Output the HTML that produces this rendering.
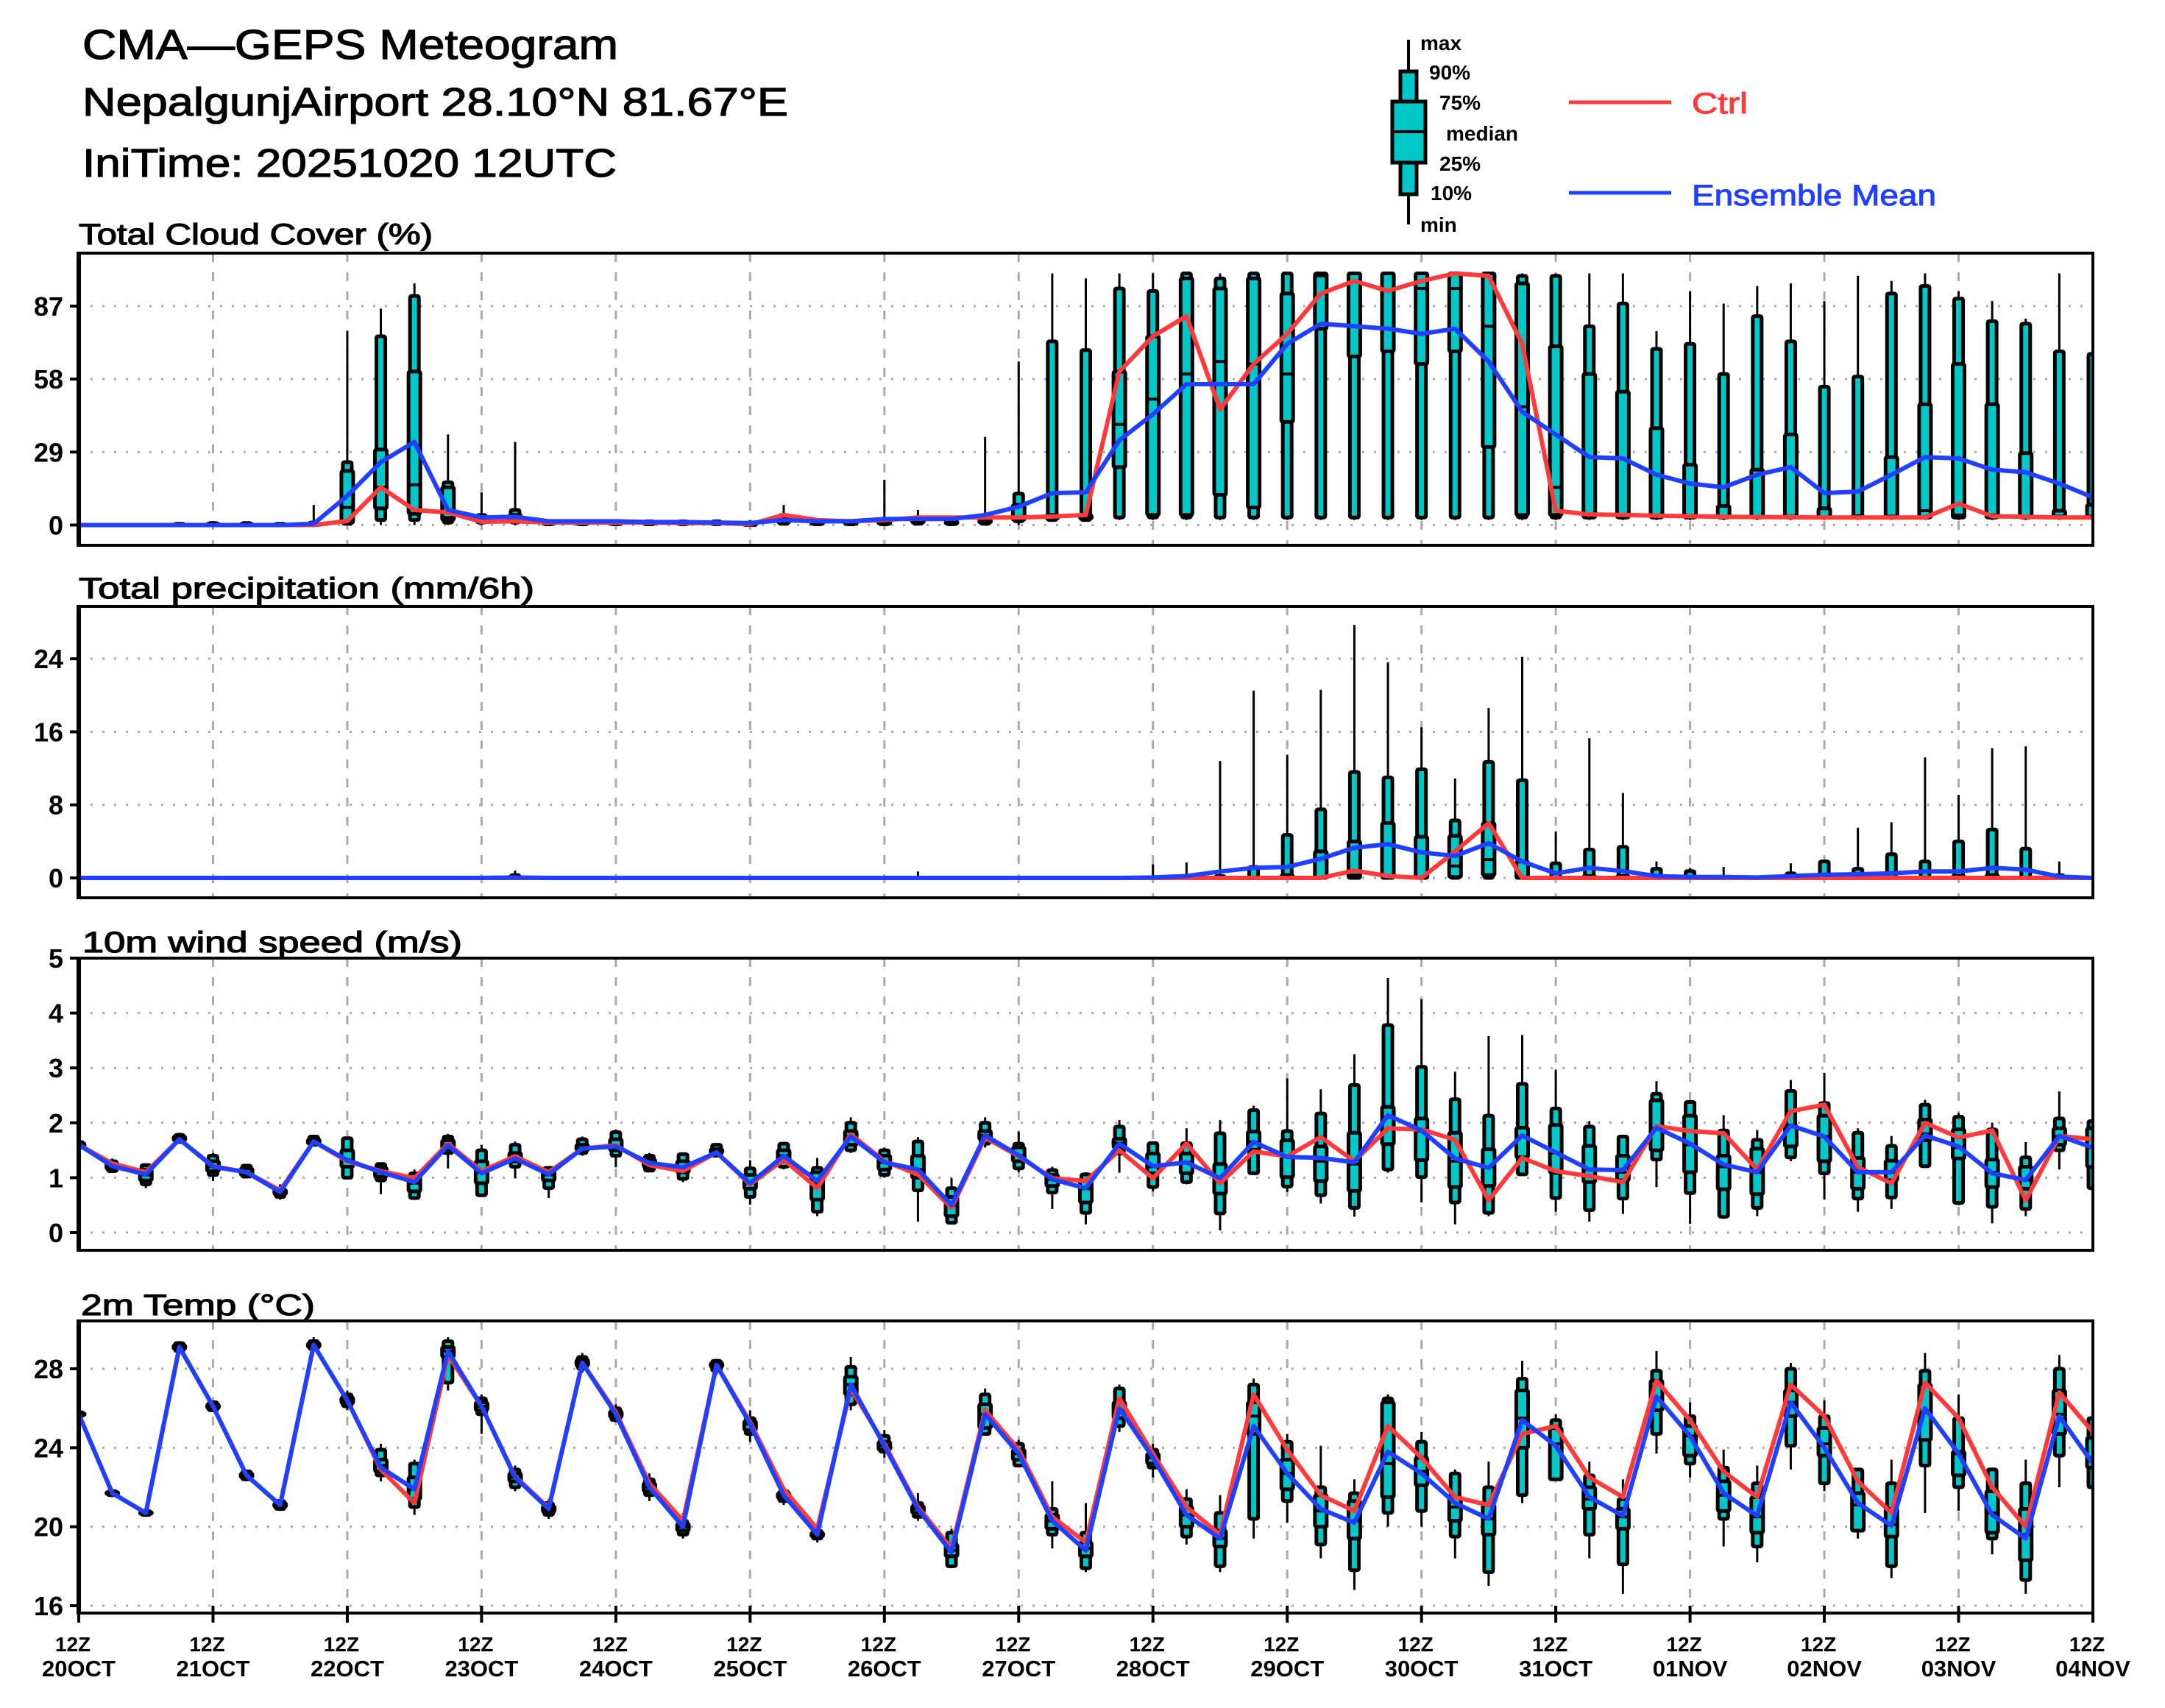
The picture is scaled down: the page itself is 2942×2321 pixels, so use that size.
<!DOCTYPE html>
<html>
<head>
<meta charset="utf-8">
<style>
html,body{margin:0;padding:0;background:#fff;}
svg{display:block;}
text{font-family:"Liberation Sans",sans-serif;}
.hv{stroke:#000;stroke-width:1.2;}
</style>
</head>
<body>
<svg id="chart" xmlns="http://www.w3.org/2000/svg" width="2942" height="2321" viewBox="0 0 2942 2321">
  <rect x="0" y="0" width="2942" height="2321" fill="#fff"/>
  <text class="hv" x="112" y="80" font-size="57" textLength="728" lengthAdjust="spacingAndGlyphs">CMA—GEPS Meteogram</text>
  <text class="hv" x="112" y="157" font-size="54" textLength="959" lengthAdjust="spacingAndGlyphs">NepalgunjAirport 28.10°N 81.67°E</text>
  <text class="hv" x="112" y="240" font-size="54" textLength="726" lengthAdjust="spacingAndGlyphs">IniTime: 20251020 12UTC</text>

  <g>
    <line x1="1914" y1="54" x2="1914" y2="305" stroke="#000" stroke-width="4"/>
    <rect x="1903" y="97" width="22" height="167" fill="#00c8c8" stroke="#000" stroke-width="5"/>
    <rect x="1892" y="138" width="45" height="83" fill="#00c8c8" stroke="#000" stroke-width="5"/>
    <line x1="1892" y1="179" x2="1937" y2="179" stroke="#000" stroke-width="4"/>
    <g font-size="28" font-weight="bold">
      <text x="1930" y="68">max</text>
      <text x="1942" y="108">90%</text>
      <text x="1956" y="149">75%</text>
      <text x="1965" y="191">median</text>
      <text x="1956" y="232">25%</text>
      <text x="1944" y="272">10%</text>
      <text x="1930" y="315">min</text>
    </g>
  </g>
  <g>
    <line x1="2132" y1="139" x2="2271" y2="139" stroke="#ff3a3a" stroke-width="5"/>
    <text x="2299" y="154" font-size="40" fill="#ff3a3a" stroke="#ff3a3a" stroke-width="1" textLength="76" lengthAdjust="spacingAndGlyphs">Ctrl</text>
    <line x1="2132" y1="262" x2="2271" y2="262" stroke="#2040ff" stroke-width="5"/>
    <text x="2299" y="279" font-size="40" fill="#2040ff" stroke="#2040ff" stroke-width="1" textLength="332" lengthAdjust="spacingAndGlyphs">Ensemble Mean</text>
  </g>

  <text class="hv" x="107" y="332" font-size="40" textLength="481" lengthAdjust="spacingAndGlyphs">Total Cloud Cover (%)</text>
  <text class="hv" x="107" y="813" font-size="40" textLength="619" lengthAdjust="spacingAndGlyphs">Total precipitation (mm/6h)</text>
  <text class="hv" x="112" y="1294" font-size="40" textLength="516" lengthAdjust="spacingAndGlyphs">10m wind speed (m/s)</text>
  <text class="hv" x="110" y="1787" font-size="40" textLength="318" lengthAdjust="spacingAndGlyphs">2m Temp (°C)</text>
  <g id="plots"></g>
</svg>
<script>
// ---------- Total cloud cover (%) ----------
const cloudMin = [0,0,0,0,0,0,0,0,0,0, 0,0,0,0,0,0,0,0,0,0, 0,0,0,0,0,0,0,0,0,2, 2,2,2,2,2,2,2,2,2,2, 2,2,2,2,2,2,2,2,2,2, 2,2,2,2,2,2,2,2,2,2,2];
const cloudP10 = [0,0,0,0,0,0,0,0,0.5,2, 2,1,1,1,0.3,0.3,0.3,0.3,0.3,0.3, 0,0.5,0.3,0.3,0.3,0.5,0.3,0.5,1.5,2, 2,3,3,3,3,3,3,3,3,3, 3,3,3,3,3,3,3,3,3,3, 3,3,3,3,3,3,3,3,3,3,3];
const cloudP25 = [0,0,0,0,0,0,0,0,1,6.6, 4.5,2,1.5,1.5,0.5,0.5,0.5,0.5,0.5,0.5, 0,1,0.5,0.5,0.5,1,0.5,1,2,2.5, 2.5,23,4,4,12,7,41,78,67,69, 64,69,31,4,4,3,3,3,3,3, 3,3,3,3,3,3,3,3,3,3,3];
const cloudMed = [0,0,0,0.2,0.3,0.3,0.2,0.3,7,15, 16,3,2,2,0.8,0.8,0.8,0.8,0.8,0.8, 0.3,2,0.8,0.8,1,1.5,1,1.5,3,3, 3,40,50,60,65,64,60,99,100,100, 94,94,79,47,15,4,4,4,3.5,3, 3,3.5,3,3,3.5,5.7,4,4,3.5,3.5,3.5];
const cloudP75 = [0,0,0,0.3,0.5,0.5,0.3,0.5,21.5,30, 61,15,3,4,1,1,1,1,1,1, 0.5,3,1,1,1.5,2,1.5,2,8,4, 4,61,75,98,94,98,92,100,100,100, 100,100,100,96,71,60,53,38.5,24,7.6, 22,36,6.6,3.5,27,48,64,48,28.6,5.7,8];
const cloudP90 = [0,0,0,0.5,0.8,0.8,0.5,1,25,75, 91,17,4,6,1.5,1.5,1.5,1.5,1.5,1.5, 1,4,1.5,1.5,2,3,2,3,12.5,73, 69.5,94,93,100,98,100,100,100,100,100, 100,100,100,99,99,79,88,70,72,60, 83,73,55,59,92,95,90,81,80,69,68];
const cloudMax = [0,0,0,1,1,1,1,8,77,86, 96,36,13,33,2,2,2,2,2,2, 2,8,2,2,18,6,3,35,65,100, 98,100,100,100,100,100,100,100,100,100, 100,100,100,100,100,100,100,77,93,88, 95,96,89,99,97,100,93,89,82,100,68];
const cloudCtrl = [0,0,0,0,0,0,0,0,1.6,15, 6,5,1.3,1.5,1,1,1,1,0.8,0.8, 0.3,4,2,1.5,2,3,3,3,3,3.4, 4,61,75,83,46,64,76,92,97,93, 97,100,99,72,5.7,4.2,4,3.7,3.5,3.3, 3.2,3.1,3,3,3,3,8.5,3.5,3.3,3,3];
const cloudMean = [0,0,0,0,0,0,0,0.5,11.6,25, 33,6,3,3.3,1.5,1.5,1.5,1.2,1.2,1, 0.8,2,1.5,1.5,2.4,2.4,2.4,4,7.3,12.7, 13,33.7,44,56,56,56,72,80,79,78, 76,78,65,45,36,27,26.5,20,16.5,15, 20,23,12.7,13.3,20,27,26.5,22,21,16.5,11];
const cloudTicks = [0,29,58,87];

// ---------- Total precipitation (mm/6h) ----------
const precMin = [0,0,0,0,0,0,0,0,0,0, 0,0,0,0,0,0,0,0,0,0, 0,0,0,0,0,0,0,0,0,0, 0,0,0,0,0,0,0,0,0,0, 0,0,0,0,0,0,0,0,0,0, 0,0,0,0,0,0,0,0,0,0,0];
const precP10 = [0,0,0,0,0,0,0,0,0,0, 0,0,0,0,0,0,0,0,0,0, 0,0,0,0,0,0,0,0,0,0, 0,0,0,0,0,0,0,0,0,0, 0,0,0,0,0,0,0,0,0,0, 0,0,0,0,0,0,0,0,0,0,0];
const precP25 = [0,0,0,0,0,0,0,0,0,0, 0,0,0,0,0,0,0,0,0,0, 0,0,0,0,0,0,0,0,0,0, 0,0,0,0,0,0,0,0,0,0, 0,0.1,0.3,0,0,0,0,0,0,0, 0,0,0,0,0,0,0,0,0,0,0];
const precMed = [0,0,0,0,0,0,0,0,0,0, 0,0,0,0,0,0,0,0,0,0, 0,0,0,0,0,0,0,0,0,0, 0,0,0,0,0,0,0,0,0.3,0.2, 0,1.3,2,0,0,0,0,0,0,0, 0,0,0,0,0,0,0,0,0,0,0];
const precP75 = [0,0,0,0,0,0,0,0,0,0, 0,0,0,0,0,0,0,0,0,0, 0,0,0,0,0,0,0,0,0,0, 0,0,0,0,0,0,0.3,2.9,4,6, 4.5,4.6,6,1.8,0,0.2,0.2,0,0,0, 0,0,0,0,0,0,0.2,0.3,0,0,0];
const precP90 = [0,0,0,0,0,0,0,0,0,0, 0,0,0,0.3,0,0,0,0,0,0, 0,0,0,0,0,0,0,0,0,0, 0,0,0,0,0.2,1.2,4.7,7.5,11.6,11, 11.9,6.3,12.7,10.7,1.6,3.1,3.4,1,0.75,0, 0,0.5,1.8,1,2.6,1.8,4,5.3,3.2,0.3,0];
const precMax = [0,0,0,0,0,0,0,0,0,0, 0,0,0,0.8,0,0,0,0,0,0, 0,0,0,0,0,0.7,0,0,0,0, 0,0,1.5,1.7,12.8,20.5,13.5,20.6,27.7,23.6, 16.5,10.9,18.6,24.2,5.1,15.3,9.3,1.8,1.1,1.2, 0,1.6,2,5.5,6.1,13.2,9.1,14.2,14.4,1.8,0];
const precCtrl = [0,0,0,0,0,0,0,0,0,0, 0,0,0,0,0,0,0,0,0,0, 0,0,0,0,0,0,0,0,0,0, 0,0,0,0,0,0,0,0,0.8,0.2, 0,2.9,6,0,0,0,0,0,0,0, 0,0,0,0,0,0,0,0,0,0,0];
const precMean = [0,0,0,0,0,0,0,0,0,0, 0,0,0,0.05,0,0,0,0,0,0, 0,0,0,0,0,0,0,0,0,0, 0,0,0.05,0.2,0.7,1.1,1.2,2.1,3.3,3.7, 2.8,2.4,3.8,1.8,0.5,1.1,0.75,0.2,0.1,0.1, 0.05,0.2,0.35,0.4,0.5,0.7,0.7,1.1,0.9,0.15,0];
const precTicks = [0,8,16,24];

// ---------- 10m wind speed (m/s) ----------
const windMin = [1.52,1.1,0.81,1.62,0.94,1.0,0.6,1.58,0.98,0.7, 0.6,1.17,0.65,0.99,0.63,1.4,1.19,1.1,0.92,1.38, 0.51,1.15,0.3,1.45,1.0,0.2,0.15,1.55,1.1,0.43, 0.15,1.09,0.75,0.88,0.04,1.07,0.74,0.53,0.29,1.09, 0.55,0.15,0.3,1.04,0.38,0.2,0.34,0.83,0.16,0.25, 0.3,1.3,0.6,0.38,0.43,1.2,0.5,0.17,0.3,1.15,0.75];
const windP10 = [1.55,1.12,0.88,1.65,1.05,1.02,0.65,1.6,1.0,0.95, 0.63,1.45,0.68,1.2,0.81,1.45,1.4,1.13,0.98,1.4, 0.65,1.2,0.38,1.5,1.05,0.77,0.18,1.62,1.17,0.73, 0.36,1.44,0.83,0.92,0.35,1.08,0.84,0.68,0.45,1.15, 1.01,0.55,0.36,1.06,0.63,0.41,0.62,1.33,0.72,0.29, 0.45,1.37,1.08,0.62,0.64,1.21,0.54,0.47,0.43,1.5,0.81];
const windP25 = [1.57,1.16,0.95,1.68,1.12,1.05,0.7,1.62,1.2,1.02, 0.75,1.52,0.9,1.3,0.95,1.5,1.5,1.2,1.1,1.45, 0.8,1.3,0.6,1.6,1.15,1.0,0.3,1.7,1.3,0.85, 0.55,1.55,1.08,1.08,0.71,1.51,1.01,0.94,0.76,1.61, 1.32,0.83,0.85,1.37,1.09,0.92,0.95,1.5,1.1,0.79, 0.7,1.57,1.3,0.8,0.95,1.68,1.35,0.83,0.8,1.6,1.2];
const windMed = [1.6,1.21,1.05,1.71,1.2,1.1,0.74,1.66,1.32,1.1, 0.9,1.6,1.1,1.35,1.05,1.53,1.57,1.27,1.2,1.47, 0.9,1.4,0.9,1.75,1.28,1.15,0.5,1.77,1.4,0.97, 0.8,1.63,1.2,1.28,0.98,1.65,1.38,1.3,1.25,2.1, 1.85,1.3,1.2,1.75,1.45,1.15,1.1,1.9,1.6,1.2, 1.1,1.95,1.75,1.1,1.1,1.8,1.55,1.1,0.96,1.75,1.55];
const windP75 = [1.63,1.26,1.15,1.75,1.3,1.17,0.78,1.7,1.5,1.18, 1.0,1.68,1.3,1.45,1.12,1.6,1.7,1.33,1.3,1.52, 1.05,1.5,1.1,1.85,1.4,1.4,0.65,1.85,1.55,1.05, 0.95,1.71,1.44,1.44,1.25,1.84,1.68,1.57,1.82,2.29, 2.08,1.82,1.52,1.91,1.96,1.58,1.4,2.41,2.13,1.4, 1.53,1.95,2.13,1.36,1.31,2.06,1.88,1.33,1.2,1.9,1.9];
const windP90 = [1.65,1.3,1.23,1.78,1.4,1.22,0.8,1.75,1.72,1.25, 1.08,1.75,1.5,1.6,1.18,1.7,1.83,1.4,1.43,1.6, 1.17,1.62,1.18,2.0,1.5,1.66,0.81,2.0,1.62,1.14, 1.06,1.93,1.63,1.63,1.81,2.23,1.85,2.17,2.69,3.78, 3.02,2.43,2.13,2.71,2.26,1.93,1.75,2.53,2.38,1.86, 1.69,2.58,2.36,1.82,1.58,2.33,2.11,1.88,1.37,2.08,2.03];
const windMax = [1.68,1.35,1.25,1.82,1.45,1.25,0.88,1.78,1.72,1.28, 1.15,1.8,1.6,1.66,1.2,1.75,1.88,1.45,1.45,1.62, 1.32,1.65,1.36,2.1,1.55,1.74,0.99,2.1,1.84,1.2, 1.1,2.05,1.66,1.9,2.05,2.31,2.81,2.61,3.25,4.64, 4.25,2.93,3.58,3.6,2.97,2.03,1.75,2.76,2.38,2.14, 1.87,2.78,2.91,1.9,1.76,2.42,2.18,2.0,1.65,2.57,2.1];
const windCtrl = [1.6,1.26,1.1,1.7,1.21,1.1,0.77,1.66,1.3,1.12, 0.99,1.62,1.12,1.39,1.1,1.53,1.59,1.23,1.12,1.46, 0.88,1.33,0.81,1.79,1.3,1.06,0.45,1.73,1.39,0.99, 0.94,1.5,0.99,1.62,0.9,1.48,1.39,1.74,1.3,1.9, 1.88,1.69,0.59,1.36,1.12,1.03,0.92,1.94,1.85,1.81, 1.15,2.21,2.33,1.19,0.9,2.0,1.73,1.86,0.59,1.76,1.7];
const windMean = [1.6,1.21,1.06,1.7,1.2,1.1,0.74,1.66,1.32,1.1, 0.92,1.59,1.08,1.35,1.06,1.53,1.57,1.27,1.19,1.46, 0.9,1.4,0.94,1.75,1.28,1.15,0.5,1.77,1.41,0.97, 0.81,1.62,1.21,1.28,0.99,1.65,1.38,1.36,1.28,2.14, 1.86,1.35,1.18,1.77,1.46,1.15,1.14,1.91,1.62,1.24, 1.1,1.95,1.75,1.1,1.1,1.77,1.57,1.08,0.96,1.76,1.55];
const windTicks = [0,1,2,3,4,5];

// ---------- 2m temperature (°C) ----------
const tempMin = [25.5,21.5,20.5,28.8,25.8,22.3,20.8,28.9,25.9,22.3, 20.6,26.9,24.7,21.8,20.4,27.8,25.3,21.3,19.4,27.7, 24.3,21.1,19.2,25.9,23.5,20.3,17.9,25.2,23.0,18.9, 17.7,24.8,22.5,19.1,17.7,19.4,20.2,18.4,16.8,20.0, 20.0,18.4,17.0,21.2,22.7,18.4,16.6,23.7,22.5,19.0, 18.2,22.9,21.8,19.4,17.4,20.7,20.8,18.6,16.6,22.0,21.5];
const tempP10 = [25.6,21.6,20.6,28.9,25.9,22.4,20.9,29.0,26.1,22.6, 21.0,27.3,25.7,22.0,20.6,28.0,25.4,21.6,19.6,27.9, 24.7,21.3,19.4,26.2,23.8,20.5,18.0,24.7,23.1,19.6, 17.9,25.1,23.0,19.5,18.0,20.4,21.3,19.1,17.8,20.7, 20.8,19.5,17.7,21.6,23.3,19.6,18.1,24.7,23.2,20.4, 19.0,24.1,22.2,20.5,18.0,23.1,22.0,19.4,17.3,23.6,22.0];
const tempP25 = [25.65,21.65,20.65,29.0,26.0,22.5,21.0,29.1,26.25,22.8, 21.4,28.6,25.9,22.3,20.75,28.15,25.55,21.8,19.8,28.1, 24.9,21.45,19.5,26.7,23.9,20.7,18.5,25.0,23.4,19.9, 18.5,25.5,23.2,20.0,19.0,24.7,21.9,20.0,19.4,21.5, 22.1,20.3,19.6,24.0,22.4,20.9,19.9,25.9,23.6,20.8, 19.7,25.6,23.6,19.8,19.5,24.4,22.6,19.7,18.3,24.7,23.0];
const tempMed = [25.7,21.7,20.7,29.1,26.1,22.6,21.1,29.2,26.4,23.1, 21.9,28.9,26.1,22.5,20.9,28.3,25.7,22.0,20.0,28.2, 25.2,21.6,19.6,27.2,24.1,20.9,18.8,25.7,23.7,20.3, 18.9,25.9,23.5,20.6,19.4,25.6,22.7,20.8,20.3,23.2, 22.8,21.0,20.4,25.5,24.2,21.4,20.5,26.5,24.6,21.6, 20.5,26.3,24.2,21.1,20.1,25.8,23.7,20.7,19.6,25.7,23.5];
const tempP75 = [25.75,21.75,20.75,29.2,26.2,22.7,21.2,29.3,26.55,23.4, 22.5,29.1,26.3,22.7,21.05,28.45,25.85,22.2,20.15,28.3, 25.35,21.7,19.7,27.6,24.3,21.05,19.1,26.2,23.9,20.6, 19.2,26.3,23.7,21.0,19.8,26.3,23.4,21.6,21.3,26.3, 23.5,21.5,21.1,26.9,25.0,22.0,20.9,27.4,25.1,22.3, 21.5,26.9,25.0,21.7,20.9,27.2,23.8,21.8,20.9,26.9,24.5];
const tempP90 = [25.8,21.8,20.8,29.3,26.3,22.8,21.3,29.4,26.7,23.9, 23.2,29.4,26.5,22.9,21.2,28.6,26.0,22.4,20.3,28.4, 25.5,21.8,19.8,28.1,24.6,21.2,19.7,26.7,24.2,20.9, 19.7,27.0,23.9,21.4,20.7,27.2,24.3,22.0,21.7,26.5, 24.3,22.7,22.0,27.5,25.4,22.6,21.4,27.9,25.6,23.0, 22.2,28.0,25.6,22.9,22.2,27.9,25.5,22.9,22.2,28.0,25.5];
const tempMax = [25.8,21.9,20.8,29.4,26.4,22.9,21.4,29.6,26.9,24.2, 23.4,29.6,26.7,23.1,21.4,28.8,26.2,22.7,20.7,28.5, 25.9,22.0,20.0,28.6,24.9,21.7,19.9,27.0,24.4,22.3, 21.2,27.2,24.2,21.9,21.6,27.5,24.7,24.1,22.4,26.7, 24.8,22.9,23.3,28.4,25.7,23.3,22.4,28.9,26.3,23.9, 23.1,28.3,26.4,22.9,23.4,28.8,26.7,23.0,23.4,28.7,25.8];
const tempCtrl = [25.7,21.7,20.7,29.1,26.1,22.6,21.1,29.2,26.4,22.9, 21.2,28.7,26.1,22.55,20.95,28.3,25.8,22.2,20.3,28.2, 25.3,21.9,19.9,27.0,24.2,21.0,18.9,25.9,23.9,20.5, 19.2,26.5,23.7,21.0,19.6,26.7,23.9,21.6,20.8,25.1, 23.5,21.5,21.1,24.7,25.1,22.5,21.5,27.4,25.4,22.8, 21.5,27.2,25.6,22.3,20.7,27.3,25.5,22.0,20.0,26.8,24.8];
const tempMean = [25.7,21.7,20.7,29.1,26.1,22.6,21.1,29.2,26.4,23.0, 21.9,28.9,26.1,22.5,20.9,28.3,25.7,22.0,20.0,28.2, 25.2,21.6,19.6,27.2,24.1,20.9,18.7,25.7,23.7,20.3, 18.8,26.0,23.5,20.6,19.4,25.1,22.7,20.9,20.2,23.8, 22.7,21.2,20.4,25.4,24.1,21.5,20.55,26.6,24.6,21.7, 20.55,26.3,24.0,21.2,20.05,26.0,23.7,20.6,19.4,25.6,23.2];
const tempTicks = [16,20,24,28];

// ---------- x-axis labels ----------
const dayLabels = ["20OCT","21OCT","22OCT","23OCT","24OCT","25OCT","26OCT","27OCT","28OCT","29OCT","30OCT","31OCT","01NOV","02NOV","03NOV","04NOV"];
const hourLabel = "12Z";

const NS = "http://www.w3.org/2000/svg";
const X0 = 107, X1 = 2844, NSTEP = 60;
function xScale(i){ return X0 + i*(X1-X0)/NSTEP; }
function mk(tag, attrs, parent){
  const el = document.createElementNS(NS, tag);
  for (const k in attrs) el.setAttribute(k, attrs[k]);
  parent.appendChild(el);
  return el;
}
const plots = document.getElementById("plots");

const panels = [
  {key:"cloud", top:344, bottom:741, y:v=>713.5-v*3.42, ticks:cloudTicks,
   min:cloudMin,p10:cloudP10,p25:cloudP25,med:cloudMed,p75:cloudP75,p90:cloudP90,max:cloudMax,ctrl:cloudCtrl,mean:cloudMean},
  {key:"precip", top:824, bottom:1220, y:v=>1193-v*12.41, ticks:precTicks,
   min:precMin,p10:precP10,p25:precP25,med:precMed,p75:precP75,p90:precP90,max:precMax,ctrl:precCtrl,mean:precMean},
  {key:"wind", top:1302, bottom:1699, y:v=>1675-v*74.6, ticks:windTicks,
   min:windMin,p10:windP10,p25:windP25,med:windMed,p75:windP75,p90:windP90,max:windMax,ctrl:windCtrl,mean:windMean},
  {key:"temp", top:1795, bottom:2192, y:v=>2182-(v-16)*26.83, ticks:tempTicks,
   min:tempMin,p10:tempP10,p25:tempP25,med:tempMed,p75:tempP75,p90:tempP90,max:tempMax,ctrl:tempCtrl,mean:tempMean}
];

const defs = mk("defs", {}, plots);

panels.forEach(function(p){
  const g = mk("g", {}, plots);
  
  

  const cp = mk("clipPath", {id:"clip-"+p.key}, defs);
  mk("rect", {x:X0, y:p.top, width:X1-X0, height:p.bottom-p.top}, cp);

  p.ticks.forEach(function(t){
    const yy = p.y(t);
    const gl = mk("line", {x1:X0, x2:X1, y1:yy, y2:yy, stroke:"#aaa", "stroke-width":3, "stroke-dasharray":"3 13"}, g);
    
    
    const tk = mk("line", {x1:X0-12, x2:X0, y1:yy, y2:yy, stroke:"#000", "stroke-width":4}, g);
    
    
    const tl = mk("text", {x:86, y:yy+13, "font-size":36, "font-weight":"bold", "text-anchor":"end"}, g);
    tl.textContent = String(t);
    
    
  });
  for (let d=1; d<15; d++){
    const xx = xScale(d*4);
    const vl = mk("line", {x1:xx, x2:xx, y1:p.top, y2:p.bottom, stroke:"#aaa", "stroke-width":3, "stroke-dasharray":"12 14"}, g);
    
    
  }

  const data = mk("g", {"clip-path":"url(#clip-"+p.key+")"}, g);
  
  

  for (let i=0; i<p.mean.length; i++){
    const xx = xScale(i);
    const bg = mk("g", {}, data);
    
    
    mk("line", {x1:xx, x2:xx, y1:p.y(p.max[i]), y2:p.y(p.min[i]), stroke:"#000", "stroke-width":3}, bg);
    const yTop = p.y(p.p90[i]), yBot = p.y(p.p10[i]);
    mk("rect", {x:xx-6, y:yTop, width:12, height:Math.max(0.5,yBot-yTop), fill:"#00c8c8", stroke:"#000", "stroke-width":5, rx:2}, bg);
    const y75 = p.y(p.p75[i]), y25 = p.y(p.p25[i]);
    mk("rect", {x:xx-8, y:y75, width:16, height:Math.max(0.5,y25-y75), fill:"#00c8c8", stroke:"#000", "stroke-width":5, rx:2}, bg);
    const ym = p.y(p.med[i]);
    mk("line", {x1:xx-9, x2:xx+9, y1:ym, y2:ym, stroke:"#000", "stroke-width":4}, bg);
  }

  const ctrlPts = p.ctrl.map((v,i)=>xScale(i).toFixed(1)+","+p.y(v).toFixed(1)).join(" ");
  const cl = mk("polyline", {points:ctrlPts, fill:"none", stroke:"#ff3a3a", "stroke-width":6, "stroke-linejoin":"round"}, data);
  
  
  const meanPts = p.mean.map((v,i)=>xScale(i).toFixed(1)+","+p.y(v).toFixed(1)).join(" ");
  const ml = mk("polyline", {points:meanPts, fill:"none", stroke:"#2040ff", "stroke-width":6, "stroke-linejoin":"round"}, data);
  
  

  const fr = mk("rect", {x:X0, y:p.top, width:X1-X0, height:p.bottom-p.top, fill:"none", stroke:"#000", "stroke-width":4}, g);
  
  
  const la = mk("line", {x1:X0, x2:X0, y1:p.top-2, y2:p.bottom+2, stroke:"#000", "stroke-width":6}, g);
  
  
});

const xg = mk("g", {}, plots);


dayLabels.forEach(function(lab, d){
  const xx = xScale(d*4);
  const tk = mk("line", {x1:xx, x2:xx, y1:2182, y2:2205, stroke:"#000", "stroke-width":4}, xg);
  
  
  const t1 = mk("text", {x:xx-8, y:2244, "font-size":28, "font-weight":"bold", "text-anchor":"middle"}, xg);
  t1.textContent = hourLabel;
  
  
  const t2 = mk("text", {x:xx, y:2278, "font-size":31, "font-weight":"bold", "text-anchor":"middle"}, xg);
  t2.textContent = lab;
  
  
});
</script>
</body>
</html>
